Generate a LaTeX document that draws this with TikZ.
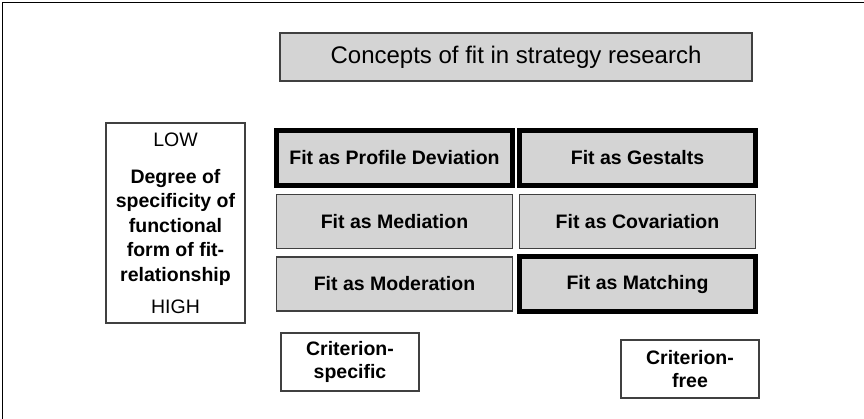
\documentclass[tikz,border=0pt]{standalone}
\usepackage{fontspec}
\setmainfont{Liberation Sans}
\usepackage{xcolor}
\usepackage{tikz}
\usetikzlibrary{positioning}
\definecolor{boxgray}{HTML}{D4D4D4}
\definecolor{edgegray}{HTML}{404040}
\newcommand{\fitsize}{\fontsize{19.5}{24.5}\selectfont}
\newcommand{\critsize}{\fontsize{19.5}{22.5}\selectfont}
\tikzstyle{titlebox} = [rectangle, minimum width=472pt, minimum height=48pt, inner sep=0pt, text centered, draw=edgegray, line width=1.2pt, fill=boxgray, font=\fontsize{24}{28}\selectfont]
\tikzstyle{fitbox} = [rectangle, minimum width=236pt, minimum height=54pt, inner sep=0pt, text centered, draw=edgegray, line width=1.2pt, fill=boxgray, font=\bfseries\fitsize]
\tikzstyle{strongbox} = [fitbox, draw=black, line width=5pt, minimum height=55pt]
\tikzstyle{scalebox} = [rectangle, minimum width=139pt, minimum height=200pt, inner sep=0pt, align=center, draw=edgegray, line width=1.2pt, fill=white, font=\fitsize]
\tikzstyle{critbox} = [rectangle, minimum width=138pt, minimum height=58pt, inner sep=0pt, align=center, draw=edgegray, line width=1.2pt, fill=white, font=\bfseries\critsize]

\begin{document}
\begin{tikzpicture}[x=1pt, y=-1pt]

    \useasboundingbox (0,0) rectangle (864,419);
    \draw [line width=1pt] (2,419) -- (2,3) -- (864,3);

    \node (title) [titlebox] at (516,57) {Concepts of fit in strategy research};

    \node (scale) [scalebox] at (175.5,223) {LOW\\[12.5pt]
        \textbf{Degree of}\\ \textbf{specificity of}\\ \textbf{functional}\\
        \textbf{form of fit-}\\ \textbf{relationship}\\[7.5pt] HIGH};

    \node (profile) [strongbox] at (394.5,158) {Fit as Profile Deviation};
    \node (gestalts) [strongbox] at (637.5,158) {Fit as Gestalts};
    \node (mediation) [fitbox] at (394.5,221.5) {Fit as Mediation};
    \node (covariation) [fitbox] at (637.5,221.5) {Fit as Covariation};
    \node (moderation) [fitbox] at (394.5,284) {Fit as Moderation};
    \node (matching) [strongbox] at (637.5,284.5) {Fit as Matching};

    \node (specific) [critbox] at (350,362) {Criterion-\\specific};
    \node (free) [critbox] at (690,369) {Criterion-\\free};

\end{tikzpicture}
\end{document}
